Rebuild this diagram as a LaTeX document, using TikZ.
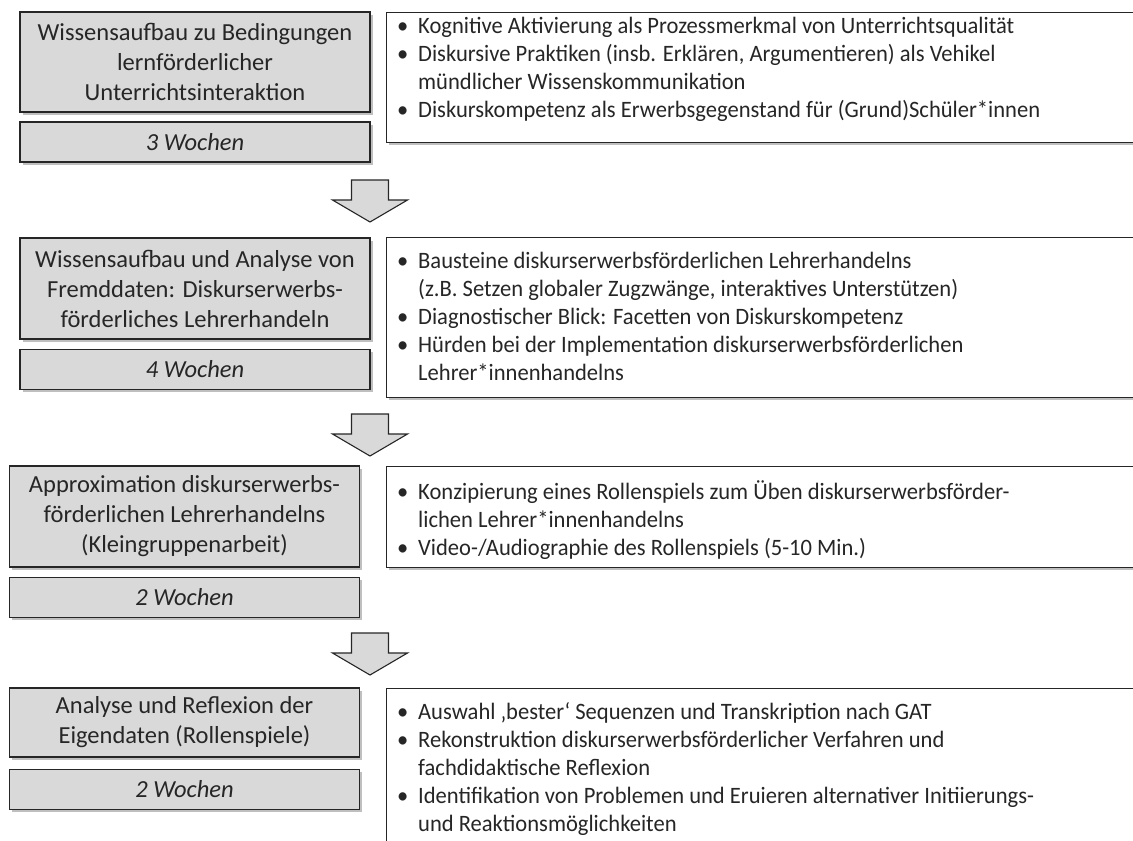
\documentclass[tikz,border=0pt]{standalone}
\usepackage{fontspec}
\setmainfont{Carlito}
\newfontfamily\itemfont[FakeStretch=0.96]{Carlito}
\usetikzlibrary{shadows}
\definecolor{boxgray}{HTML}{D9D9D9}
\definecolor{ink}{HTML}{262626}
\tikzset{
    normal/.style={draw=black!85, line width=1.1pt},
    shadowed/.style={drop shadow={shadow xshift=2.5pt, shadow yshift=-2.5pt, opacity=0.25, fill=black}},
    phase/.style={style=normal, style=shadowed, fill=boxgray, text=ink, minimum width=350pt, align=center, inner sep=0pt, font=\fontsize{24.5}{30}\selectfont},
    weeks/.style={style=phase, minimum height=40pt, font=\fontsize{24.5}{30}\selectfont\itshape},
    topics/.style={style=normal, style=shadowed, fill=white, anchor=north west, minimum width=760pt, inner sep=0pt},
    items/.style={anchor=north west, align=left, inner sep=0pt, text=ink, font=\itemfont\fontsize{23.5}{28}\selectfont},
    down/.style={style=normal, fill=boxgray, line join=miter}
}
\newcommand{\bp}{\makebox[21pt][l]{\textbullet}}
\newcommand{\bq}{\hspace*{21pt}}

\begin{document}
\begin{tikzpicture}[x=1pt, y=-1pt]
  \useasboundingbox (0,0) rectangle (1133,841);
  \clip (0,0) rectangle (1133,841);

  % phase 1
  \node[phase, minimum height=100pt] (phase1) at (195,62)
  {Wissensaufbau zu Bedingungen\\lernförderlicher\\Unterrichtsinteraktion};
  \node[weeks] (weeks1) at (195,142) {3 Wochen};
  \node[topics, minimum height=130pt] (topics1) at (386,12) {};
  \node[items] (items1) at (397,17)
  {\bp Kognitive Aktivierung als Prozessmerkmal von Unterrichtsqualität\\
   \bp Diskursive Praktiken (insb. Erklären, Argumentieren) als Vehikel\\
   \bq mündlicher Wissenskommunikation\\
   \bp Diskurskompetenz als Erwerbsgegenstand für (Grund)Schüler*innen};

  % phase 2
  \node[phase, minimum height=101pt] (phase2) at (195,288.5)
  {Wissensaufbau und Analyse von\\Fremddaten: Diskurserwerbs-\\förderliches Lehrerhandeln};
  \node[weeks] (weeks2) at (195,369.5) {4 Wochen};
  \node[topics, minimum height=160pt] (topics2) at (386,237) {};
  \node[items] (items2) at (397,252)
  {\bp Bausteine diskurserwerbsförderlichen Lehrerhandelns\\
   \bq (z.B. Setzen globaler Zugzwänge, interaktives Unterstützen)\\
   \bp Diagnostischer Blick: Facetten von Diskurskompetenz\\
   \bp Hürden bei der Implementation diskurserwerbsförderlichen\\
   \bq Lehrer*innenhandelns};

  % phase 3
  \node[phase, minimum height=101pt] (phase3) at (184.5,516.5)
  {Approximation diskurserwerbs-\\förderlichen Lehrerhandelns\\(Kleingruppenarbeit)};
  \node[weeks] (weeks3) at (184.5,597.5) {2 Wochen};
  \node[topics, minimum height=101pt] (topics3) at (386,466) {};
  \node[items] (items3) at (397,480)
  {\bp Konzipierung eines Rollenspiels zum Üben diskurserwerbsförder-\\
   \bq lichen Lehrer*innenhandelns\\
   \bp Video-/Audiographie des Rollenspiels (5-10 Min.)};

  % phase 4
  \node[phase, minimum height=69pt] (phase4) at (184.5,722.5)
  {Analyse und Reflexion der\\Eigendaten (Rollenspiele)};
  \node[weeks] (weeks4) at (184.5,789.5) {2 Wochen};
  \node[topics, minimum height=165pt] (topics4) at (386,688) {};
  \node[items] (items4) at (397,702)
  {\bp Auswahl ‚bester‘ Sequenzen und Transkription nach GAT\\
   \bp Rekonstruktion diskurserwerbsförderlicher Verfahren und\\
   \bq fachdidaktische Reflexion\\
   \bp Identifikation von Problemen und Eruieren alternativer Initiierungs-\\
   \bq und Reaktionsmöglichkeiten};

  % block arrows between the phases
  \foreach \t in {180,414,633}
    \draw[down] (351.5,\t) -- ++(37,0) -- ++(0,20) -- ++(19,0) -- ++(-37.5,22)
      -- ++(-37.5,-22) -- ++(19,0) -- cycle;
\end{tikzpicture}
\end{document}
